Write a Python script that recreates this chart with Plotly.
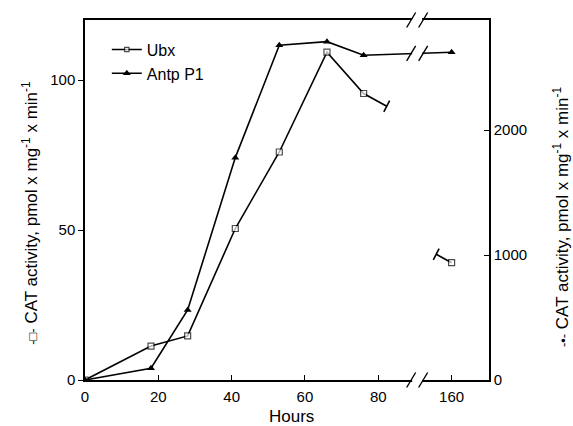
import numpy as np
import plotly.graph_objects as go

# ---- data ----
hours = [0, 18, 28, 41, 53, 66, 76, 160]
ubx = [0, 11.3, 14.7, 50.5, 76, 109.3, 95.5, 39.1]          # left axis
antp = [0, 94, 560, 1779, 2678, 2707, 2598, 2622]           # right axis
x_tickvals_real = [0, 20, 40, 60, 80, 160]
y_left_ticks = [0, 50, 100]
y_right_ticks = [0, 1000, 2000]

# broken x axis: hours beyond the gap are shifted left by 60
GAP_SHIFT = 60
def xmap(h):
    return h if h <= 90 else h - GAP_SHIFT

xm = [xmap(h) for h in hours]

# Ubx: solid to 76 h, short stubs on either side of the break
stub_a_real, stub_b_real = 82.3, 155.8
ubx_a = float(np.interp(stub_a_real, hours[-2:], ubx[-2:]))
ubx_b = float(np.interp(stub_b_real, hours[-2:], ubx[-2:]))

ux = xm[:-1] + [xmap(stub_a_real), None, xmap(stub_b_real), xm[-1]]
uy = ubx[:-1] + [ubx_a, None, ubx_b, ubx[-1]]
usize = [6] * (len(xm) - 1) + [0, 0, 0, 6]

FONT = "Liberation Sans, Arial, Helvetica, sans-serif"

fig = go.Figure()
fig.add_trace(go.Scatter(
    x=ux, y=uy, mode="lines+markers", name="Ubx",
    line=dict(color="black", width=1.6),
    marker=dict(symbol="square", size=usize, color="white",
                line=dict(color="black", width=1.2)),
    yaxis="y", connectgaps=False,
))
fig.add_trace(go.Scatter(
    x=xm, y=antp, mode="lines+markers", name="Antp P1",
    line=dict(color="black", width=1.6),
    marker=dict(symbol="triangle-up", size=7, color="black"),
    yaxis="y2",
))

shapes = []

def slash_pair(xc, yc, yref):
    # white gap then two parallel slashes (pixel sized, anchored at data/paper point)
    shapes.append(dict(type="rect", xref="x", yref=yref, xsizemode="pixel", ysizemode="pixel",
                       xanchor=xc, yanchor=yc, x0=-5, x1=5, y0=-3, y1=3,
                       line=dict(width=0), fillcolor="white", layer="above"))
    for dx in (-6, 6):
        shapes.append(dict(type="line", xref="x", yref=yref, xsizemode="pixel", ysizemode="pixel",
                           xanchor=xc, yanchor=yc, x0=dx - 4.5, x1=dx + 4.5, y0=-7.5, y1=7.5,
                           line=dict(color="black", width=1.4), layer="above"))

BREAK_X = 90.6
slash_pair(BREAK_X, 0, "paper")
slash_pair(BREAK_X, 1, "paper")
slash_pair(BREAK_X, float(np.interp(BREAK_X, xm[-2:], antp[-2:])), "y2")

# end ticks on the Ubx stubs
for xs, ys in ((xmap(stub_a_real), ubx_a), (xmap(stub_b_real), ubx_b)):
    shapes.append(dict(type="line", xref="x", yref="y", xsizemode="pixel", ysizemode="pixel",
                       xanchor=xs, yanchor=ys, x0=-2.9, x1=2.9, y0=-5.6, y1=5.6,
                       line=dict(color="black", width=1.6), layer="above"))

title_txt = "CAT activity, pmol x mg<sup>-1</sup> x min<sup>-1</sup>"
annotations = [
    dict(text="<span style='font-size:13px'>-□-</span> " + title_txt, textangle=-90,
         xref="paper", yref="paper", x=-0.138, y=0.465, xanchor="center", yanchor="middle",
         showarrow=False, font=dict(family=FONT, size=17, color="black")),
    dict(text="<span style='font-size:13px'>-•-</span> " + title_txt, textangle=-90,
         xref="paper", yref="paper", x=1.178, y=0.455, xanchor="center", yanchor="middle",
         showarrow=False, font=dict(family=FONT, size=17, color="black")),
    dict(text="Hours", xref="paper", yref="paper", x=0.512, y=-0.1,
         xanchor="center", yanchor="middle", showarrow=False,
         font=dict(family=FONT, size=17, color="black")),
]

fig.update_layout(
    width=573, height=426,
    margin=dict(l=85, r=84, t=20, b=46),
    paper_bgcolor="white", plot_bgcolor="white",
    font=dict(family=FONT, size=15, color="black"),
    showlegend=True,
    legend=dict(x=0.054, y=0.965, xanchor="left", yanchor="top",
                bgcolor="rgba(0,0,0,0)", font=dict(size=16), itemwidth=30,
                tracegroupgap=0),
    xaxis=dict(range=[0, 110.2], tickvals=[xmap(v) for v in x_tickvals_real],
               ticktext=[str(v) for v in x_tickvals_real],
               ticks="inside", ticklen=5, tickwidth=1.2, tickcolor="black",
               showline=True, linecolor="black", linewidth=1.5, mirror=True,
               showgrid=False, zeroline=False, ticklabelstandoff=2),
    yaxis=dict(range=[0, 120], tickvals=y_left_ticks, ticks="outside", ticklen=5,
               tickwidth=1.2, tickcolor="black", showline=True, linecolor="black",
               linewidth=1.5, showgrid=False, zeroline=False),
    yaxis2=dict(range=[0, 2880], tickvals=y_right_ticks, overlaying="y", side="right",
                ticks="inside", ticklen=5, tickwidth=1.2, tickcolor="black",
                showline=True, linecolor="black", linewidth=1.5,
                showgrid=False, zeroline=False),
    shapes=shapes,
    annotations=annotations,
)

fig.write_html("out.html")
